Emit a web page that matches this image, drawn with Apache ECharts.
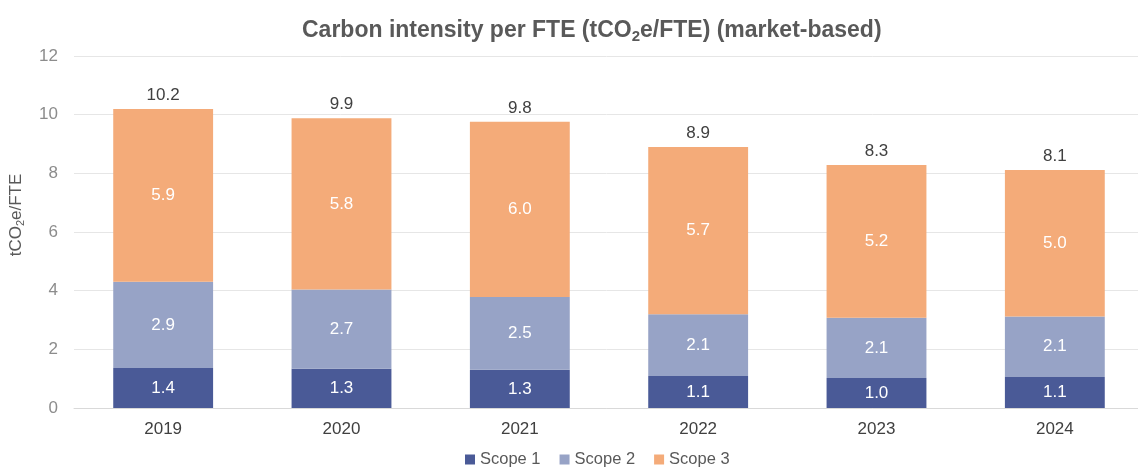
<!DOCTYPE html>
<html><head><meta charset="utf-8">
<script src="https://cdn.jsdelivr.net/npm/echarts@6/dist/echarts.min.js"></script>
<style>html,body{margin:0;padding:0;background:#fff}#c{width:1138px;height:468px}</style>
</head><body><div id="c"></div>
<script>
const years = ['2019','2020','2021','2022','2023','2024'];
const scope1 = [1.36, 1.34, 1.30, 1.09, 1.02, 1.06];
const scope2 = [2.94, 2.70, 2.48, 2.11, 2.06, 2.06];
const scope3 = [5.89, 5.84, 5.98, 5.70, 5.20, 4.99];
const yTicks = [0, 2, 4, 6, 8, 10, 12];
const totals = years.map((_, i) => scope1[i] + scope2[i] + scope3[i]);

const F = 'Liberation Sans, Arial, sans-serif';
const chart = echarts.init(document.getElementById('c'));
const inLabel = {show: true, position: 'inside', color: '#fff', fontSize: 17, fontFamily: F,
  formatter: p => p.value.toFixed(1)};
chart.setOption({
  animation: false,
  title: {
    text: '{a|Carbon intensity per FTE (tCO}{s|2}{a|e/FTE) (market-based)}',
    left: 297, top: 12,
    textStyle: {rich: {
      a: {fontSize: 23, fontWeight: 'bold', color: '#595959', fontFamily: F},
      s: {fontSize: 15, fontWeight: 'bold', color: '#595959', fontFamily: F, padding: [12, 0, 0, 0]}
    }}
  },
  legend: {
    data: ['Scope 1', 'Scope 2', 'Scope 3'],
    top: 446, left: 460, padding: 5, itemWidth: 10, itemHeight: 10, itemGap: 19,
    icon: 'rect',
    textStyle: {color: '#595959', fontSize: 16.5, fontFamily: F}
  },
  grid: {left: 74, top: 56, width: 1070, height: 352, outerBoundsMode: 'none', containLabel: false},
  xAxis: {
    type: 'category', data: years,
    axisLine: {lineStyle: {color: '#d9d9d9'}}, axisTick: {show: false},
    axisLabel: {color: '#404040', fontSize: 17, fontFamily: F, margin: 13}
  },
  yAxis: {
    type: 'value', min: yTicks[0], max: yTicks[yTicks.length - 1], interval: 2,
    name: '{a|tCO}{s|2}{a|e/FTE}', nameLocation: 'middle', nameGap: 48, nameRotate: 90,
    nameTextStyle: {padding: [0, 0, 0, 34], rich: {
      a: {fontSize: 17, color: '#595959', fontFamily: F},
      s: {fontSize: 11, color: '#595959', fontFamily: F, padding: [9, 0, 0, 0]}
    }},
    axisLine: {show: false}, axisTick: {show: false},
    axisLabel: {color: '#8c8c8c', fontSize: 17, fontFamily: F, margin: 16},
    splitLine: {lineStyle: {color: '#e6e6e6'}}
  },
  series: [
    {name: 'Scope 1', type: 'bar', stack: 't', data: scope1, barWidth: '56%',
     itemStyle: {color: '#4A5A97'}, label: inLabel},
    {name: 'Scope 2', type: 'bar', stack: 't', data: scope2,
     itemStyle: {color: '#97A3C6'}, label: inLabel},
    {name: 'Scope 3', type: 'bar', stack: 't', data: scope3,
     itemStyle: {color: '#F4AB79'}, label: inLabel},
    {name: 'Total', type: 'bar', stack: 't', data: years.map(() => 0),
     itemStyle: {color: 'transparent'},
     label: {show: true, position: 'top', color: '#404040', fontSize: 17, fontFamily: F, distance: 5,
       formatter: p => totals[p.dataIndex].toFixed(1)}}
  ]
});
</script></body></html>
